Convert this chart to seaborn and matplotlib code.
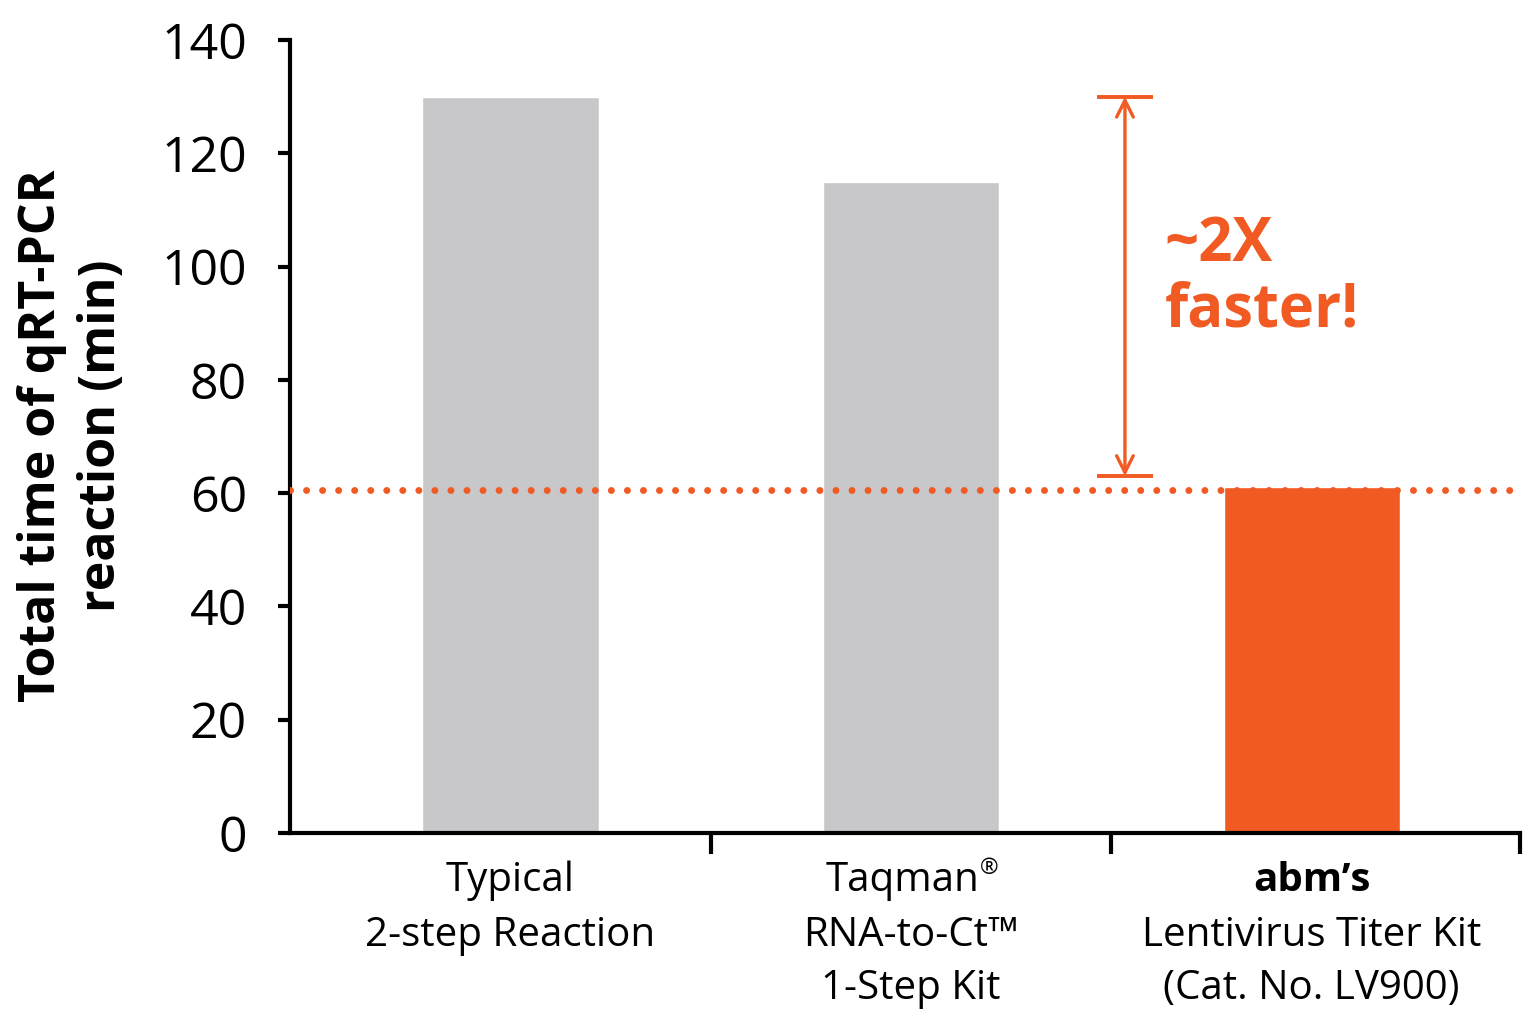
import matplotlib
matplotlib.use("Agg")
import matplotlib.pyplot as plt
import seaborn as sns

# data
categories = ["Typical", "Taqman", "abm's"]
times = [130, 115, 61]
bar_colors = ["#C8C8CA", "#C8C8CA", "#F15A22"]
abm_line = 60.5
arrow_top = 130
arrow_bottom = 63
label_lines = [
    ["Typical", "2-step Reaction"],
    ["Taqman", "RNA-to-Ct\u2122", "1-Step Kit"],
    ["abm\u2019s", "Lentivirus Titer Kit", "(Cat. No. LV900)"],
]
yticks = [0, 20, 40, 60, 80, 100, 120, 140]

ORANGE = "#F15A22"

sns.set_style("white")
plt.rcParams["font.family"] = ["Open Sans", "DejaVu Sans"]
plt.rcParams["text.color"] = "black"
plt.rcParams["ytick.color"] = "black"
plt.rcParams["xtick.color"] = "black"

fig = plt.figure(figsize=(15.37, 10.23), dpi=100)
ax = fig.add_axes([290 / 1537, 1 - 833 / 1023, (1520 - 290) / 1537, 793 / 1023])

sns.barplot(x=categories, y=times, hue=categories, palette=bar_colors,
            legend=False, width=0.44, saturation=1, ax=ax)

ax.set_xlim(-0.55, 2.52)
ax.set_ylim(0, 140)
ax.set_yticks(yticks)
ax.set_yticklabels([str(t) for t in yticks], fontsize=36, color="black")
ax.tick_params(axis="y", left=True, length=9, width=3, pad=22, color="black",
               direction="out")
ax.set_xticks([0, 1, 2])
ax.set_xticklabels([])
ax.tick_params(axis="x", which="major", length=0)
ax.set_xticks([0.5, 1.5, 2.52], minor=True)
ax.tick_params(axis="x", which="minor", bottom=True, length=15, width=3,
               direction="out", color="black")

for side in ["top", "right"]:
    ax.spines[side].set_visible(False)
for side in ["left", "bottom"]:
    ax.spines[side].set_linewidth(3)
    ax.spines[side].set_color("black")
ax.set_xlabel("")
ax.set_ylabel("")

# dotted reference line
ax.axhline(abm_line, color=ORANGE, lw=5, linestyle=(0, (0.01, 2.3)),
           dash_capstyle="round", zorder=3)

# double arrow with caps
ax.annotate("", xy=(1.534, arrow_top), xytext=(1.534, arrow_bottom),
            arrowprops=dict(arrowstyle="<->,head_length=1.2,head_width=0.6",
                            color=ORANGE, lw=2.4, shrinkA=0, shrinkB=0))
for yv in [arrow_top, arrow_bottom]:
    ax.plot([1.464, 1.604], [yv, yv], color=ORANGE, lw=2.8, solid_capstyle="butt")

ax.text(1.633, 98, "~2X\nfaster!", color=ORANGE, fontsize=43, fontweight="bold",
        ha="left", va="center", linespacing=1.1)

# category labels
trans = ax.get_xaxis_transform()
line_y = [-0.06, -0.13, -0.197]
for i, lines in enumerate(label_lines):
    for j, txt in enumerate(lines):
        weight = "bold" if (i == 2 and j == 0) else "normal"
        t = ax.text(i - (0.02 if (i == 1 and j == 0) else 0), line_y[j], txt,
                    transform=trans, ha="center", va="center", fontsize=29,
                    fontweight=weight, color="black", clip_on=False)
        if i == 1 and j == 0:
            ax.annotate("\u00ae", xy=(1.0, 0.8), xycoords=t, fontsize=16,
                        ha="left", va="center", annotation_clip=False)

fig.text(72 / 1537, 1 - 436 / 1023, "Total time of qRT-PCR\nreaction (min)",
         rotation=90, ha="center", va="center", fontsize=36, fontweight="bold",
         multialignment="center", linespacing=1.25, color="black")

fig.savefig("out.png", dpi=100, facecolor="white")
